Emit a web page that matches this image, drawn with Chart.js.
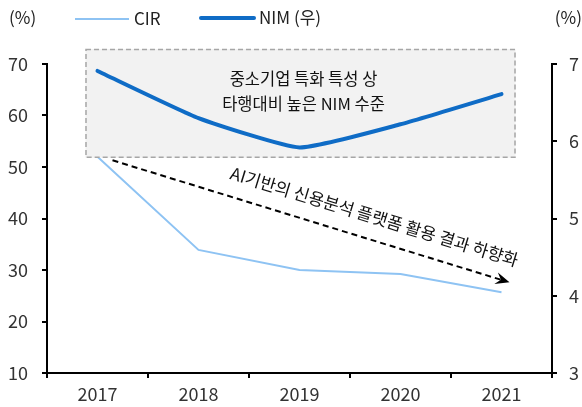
<!DOCTYPE html>
<html><head><meta charset="utf-8">
<script src="https://cdn.jsdelivr.net/npm/chart.js@4"></script>
<style>html,body{margin:0;padding:0;background:#fff}#wrap{width:582px;height:407px;position:relative}</style>
</head><body><div id="wrap"><canvas id="c" width="582" height="407"></canvas></div>
<script>
const categories = ['2017','2018','2019','2020','2021'];
const cirValues = [52, 33.9, 30.0, 29.2, 25.7];
const nimValues = [6.91, 6.30, 5.92, 6.22, 6.61];
const leftTicks = [10,20,30,40,50,60,70];
const rightTicks = [3,4,5,6,7];
const boxText = ['중소기업 특화 특성 상','타행대비 높은 NIM 수준'];
const arrowText = 'AI기반의 신용분석 플랫폼 활용 결과 하향화';
const legendLabels = ['CIR','NIM (우)'];

const FONT = "'Noto Sans CJK KR','Noto Sans',sans-serif";
const CIR_COLOR = '#8ec3f3';
const NIM_COLOR = '#0f6cc6';

const overlay = {
  id:'overlay',
  beforeDatasetDraw(chart, args){
    if (args.index !== 0) return;
    const ctx = chart.ctx, x = chart.scales.x, yl = chart.scales.y;
    const left = x.getPixelForValue(0) - 12, right = x.getPixelForValue(4) + 14;
    const top = yl.getPixelForValue(72.9), bot = yl.getPixelForValue(51.8);
    ctx.save();
    ctx.fillStyle = '#f2f2f2';
    ctx.fillRect(left, top, right-left, bot-top);
    ctx.strokeStyle = '#a6a6a6'; ctx.lineWidth = 1.5; ctx.setLineDash([5,3]);
    ctx.strokeRect(left+0.5, top+0.5, right-left-1, bot-top-1);
    ctx.setLineDash([]);
    ctx.fillStyle = '#111'; ctx.font = '16.5px ' + FONT; ctx.textAlign = 'center'; ctx.textBaseline = 'middle';
    const cx = (x.getPixelForValue(1)+x.getPixelForValue(3))/2 + 4;
    ctx.fillText(boxText[0], cx, top + 30);
    ctx.fillText(boxText[1], cx, top + 55);
    ctx.restore();
  },
  afterDatasetsDraw(chart){
    const ctx = chart.ctx, x = chart.scales.x, yl = chart.scales.y;
    const x1 = x.getPixelForValue(0) + 15, y1 = yl.getPixelForValue(51.3);
    const x2 = x.getPixelForValue(4) + 8, y2 = yl.getPixelForValue(27.6);
    ctx.save();
    ctx.strokeStyle = '#000'; ctx.lineWidth = 2; ctx.setLineDash([6,4]);
    const ang = Math.atan2(y2-y1, x2-x1);
    ctx.beginPath(); ctx.moveTo(x1,y1); ctx.lineTo(x2 - 8*Math.cos(ang), y2 - 8*Math.sin(ang)); ctx.stroke();
    ctx.setLineDash([]);
    ctx.fillStyle = '#000';
    ctx.beginPath();
    ctx.moveTo(x2,y2);
    ctx.lineTo(x2 - 14*Math.cos(ang) + 6*Math.sin(ang), y2 - 14*Math.sin(ang) - 6*Math.cos(ang));
    ctx.lineTo(x2 - 9*Math.cos(ang), y2 - 9*Math.sin(ang));
    ctx.lineTo(x2 - 14*Math.cos(ang) - 6*Math.sin(ang), y2 - 14*Math.sin(ang) + 6*Math.cos(ang));
    ctx.closePath(); ctx.fill();
    // rotated text
    const mx = (x1+x2)/2 + 58, my = (y1+y2)/2 + 13;
    ctx.translate(mx, my); ctx.rotate(ang);
    ctx.font = '17px ' + FONT; ctx.textAlign = 'center'; ctx.textBaseline = 'bottom';
    ctx.fillStyle = '#111';
    ctx.fillText(arrowText, 0, -10);
    ctx.restore();

    // legend & unit labels
    ctx.save();
    ctx.font = '17px ' + FONT; ctx.fillStyle = '#222'; ctx.textBaseline = 'middle';
    ctx.textAlign = 'left'; ctx.fillText('(%)', 9, 18);
    ctx.textAlign = 'right'; ctx.fillText('(%)', 582, 18);
    ctx.textAlign = 'left';
    ctx.strokeStyle = CIR_COLOR; ctx.lineWidth = 2;
    ctx.beginPath(); ctx.moveTo(75,19); ctx.lineTo(129,19); ctx.stroke();
    ctx.fillText(legendLabels[0], 134, 19);
    ctx.strokeStyle = NIM_COLOR; ctx.lineWidth = 4; ctx.lineCap = 'round';
    ctx.beginPath(); ctx.moveTo(201,18); ctx.lineTo(254,18); ctx.stroke();
    ctx.fillText(legendLabels[1], 259, 18);
    ctx.restore();
  }
};

new Chart(document.getElementById('c'), {
  type:'line',
  data:{ labels: categories, datasets:[
    { label: legendLabels[1], data: nimValues, yAxisID:'y2', borderColor: NIM_COLOR, borderWidth: 4, pointRadius:0, tension:0.15, borderCapStyle:'round' },
    { label: legendLabels[0], data: cirValues, yAxisID:'y', borderColor: CIR_COLOR, borderWidth: 2, pointRadius:0, tension:0 }
  ]},
  options:{
    responsive:false, animation:false, devicePixelRatio:1,
    layout:{ padding:{ top:64, left:0, right:0, bottom:0 } },
    plugins:{ legend:{display:false}, tooltip:{enabled:false} },
    scales:{
      x:{ offset:true,
          afterFit(s){ s.height = 34; },
          grid:{ offset:true, drawOnChartArea:false, tickLength:5, color:'#000', lineWidth:2 },
          border:{ color:'#000', width:2 },
          ticks:{ color:'#333', font:{ family:FONT, size:18 }, padding:5 } },
      y:{ position:'left', min:10, max:70,
          afterBuildTicks(s){ s.ticks = leftTicks.map(v=>({value:v})); },
          afterFit(s){ s.width = 47; },
          grid:{ drawOnChartArea:false, tickLength:5, color:'#000', lineWidth:2 },
          border:{ color:'#000', width:2 },
          ticks:{ color:'#333', font:{ family:FONT, size:18 }, padding:14 } },
      y2:{ position:'right', min:3, max:7,
          afterBuildTicks(s){ s.ticks = rightTicks.map(v=>({value:v})); },
          afterFit(s){ s.width = 30; },
          grid:{ drawOnChartArea:false, tickLength:5, color:'#000', lineWidth:2 },
          border:{ color:'#000', width:2 },
          ticks:{ color:'#333', font:{ family:FONT, size:18 }, padding:12 } }
    }
  },
  plugins:[overlay]
});
</script></body></html>
